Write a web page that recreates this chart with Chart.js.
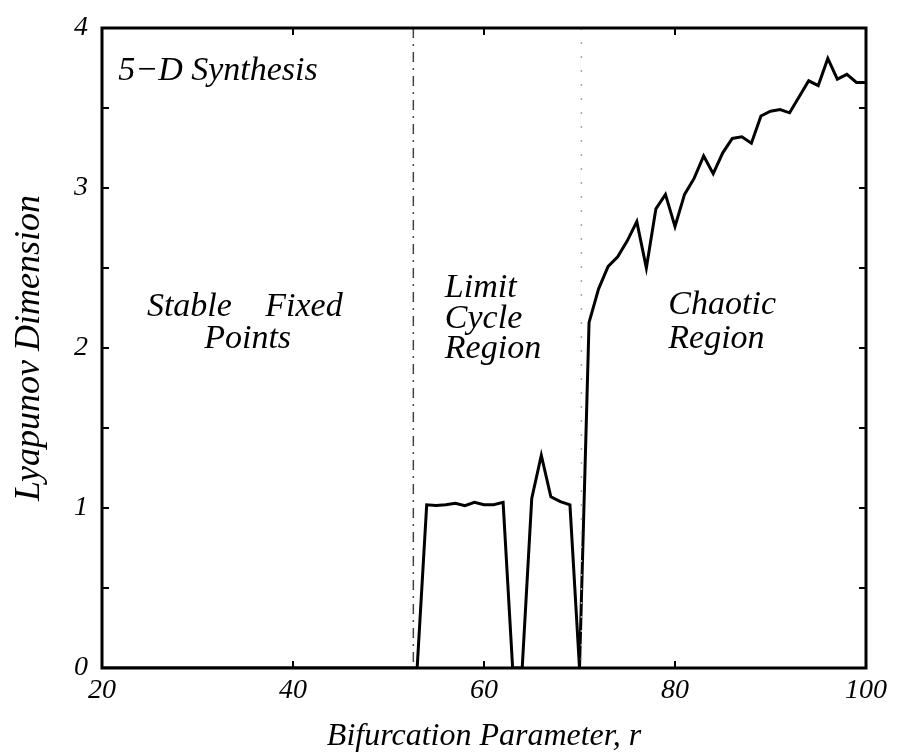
<!DOCTYPE html>
<html lang="en">
<head>
    <meta charset="UTF-8">
    <title>Lyapunov Dimension vs Bifurcation Parameter</title>
    <script src="https://cdn.jsdelivr.net/npm/chart.js"></script>
    <style>
        body {
            margin: 0;
            padding: 0;
            background-color: #ffffff;
        }
        #wrap {
            width: 900px;
            height: 753px;
        }
    </style>
</head>
<body>
    <div id="wrap"><canvas id="chartLyap"></canvas></div>

    <script>
        // bifurcation parameter r and the Lyapunov dimension
        var rValues = [20, 30, 40, 50, 53, 54, 55, 56, 57, 58, 59, 60, 61, 62, 63, 64, 65, 66, 67, 68, 69, 70,
                       71, 72, 73, 74, 75, 76, 77, 78, 79, 80, 81, 82, 83, 84, 85, 86, 87, 88, 89, 90,
                       91, 92, 93, 94, 95, 96, 97, 98, 99, 100];
        var lyapDim = [0, 0, 0, 0, 0, 1.02, 1.015, 1.02, 1.03, 1.015, 1.035, 1.02, 1.02, 1.035, 0, 0, 1.06, 1.33, 1.07, 1.04, 1.02, 0,
                       2.16, 2.37, 2.51, 2.57, 2.67, 2.79, 2.50, 2.87, 2.96, 2.76, 2.96, 3.06, 3.20, 3.09, 3.22, 3.31, 3.32, 3.28, 3.45, 3.48,
                       3.49, 3.47, 3.57, 3.67, 3.64, 3.81, 3.68, 3.71, 3.66, 3.66];

        var xTicks = [20, 40, 60, 80, 100];
        var yTicks = [0, 1, 2, 3, 4];
        var regionBounds = [52.6, 70.2];

        // region labels: [text, r, y]
        var notes = [
            ['5\u2212D Synthesis', 21.7, 3.676],
            ['Stable', 24.7, 2.198],
            ['Fixed', 37.1, 2.198],
            ['Points', 30.7, 1.997],
            ['Limit', 55.9, 2.321],
            ['Cycle', 55.9, 2.125],
            ['Region', 55.9, 1.936],
            ['Chaotic', 79.3, 2.211],
            ['Region', 79.3, 2.003]
        ];

        var serif = "'Liberation Serif', 'DejaVu Serif', serif";

        var frame = {
            id: 'frame',
            afterDraw: function(chart) {
                var ctx = chart.ctx;
                var a = chart.chartArea;
                var xs = chart.scales.x, ys = chart.scales.y;
                ctx.save();

                // region boundaries
                ctx.lineWidth = 1.5;
                ctx.strokeStyle = '#444';
                ctx.setLineDash([10, 6, 2, 6]);
                var bx = xs.getPixelForValue(regionBounds[0]);
                ctx.beginPath(); ctx.moveTo(bx, a.top); ctx.lineTo(bx, a.bottom); ctx.stroke();
                ctx.strokeStyle = '#aaa';
                ctx.setLineDash([2, 12]);
                bx = xs.getPixelForValue(regionBounds[1]);
                ctx.beginPath(); ctx.moveTo(bx, a.top); ctx.lineTo(bx, a.bottom); ctx.stroke();
                ctx.setLineDash([]);

                // inward ticks
                ctx.strokeStyle = '#000';
                ctx.lineWidth = 2;
                ys.ticks.forEach(function(t) {
                    var py = ys.getPixelForValue(t.value);
                    if (py <= a.top + 1 || py >= a.bottom - 1) return;
                    ctx.beginPath();
                    ctx.moveTo(a.left, py); ctx.lineTo(a.left + 7, py);
                    ctx.moveTo(a.right, py); ctx.lineTo(a.right - 7, py);
                    ctx.stroke();
                });
                xs.ticks.forEach(function(t) {
                    var px = xs.getPixelForValue(t.value);
                    if (px <= a.left + 1 || px >= a.right - 1) return;
                    ctx.beginPath();
                    ctx.moveTo(px, a.bottom); ctx.lineTo(px, a.bottom - 7);
                    ctx.moveTo(px, a.top); ctx.lineTo(px, a.top + 7);
                    ctx.stroke();
                });

                // box
                ctx.lineWidth = 3;
                ctx.strokeRect(a.left, a.top, a.right - a.left, a.bottom - a.top);

                // labels
                ctx.fillStyle = '#000';
                ctx.font = 'italic 34px ' + serif;
                ctx.textAlign = 'left';
                ctx.textBaseline = 'alphabetic';
                notes.forEach(function(n) {
                    ctx.fillText(n[0], xs.getPixelForValue(n[1]), ys.getPixelForValue(n[2]));
                });
                ctx.restore();
            }
        };

        new Chart(document.getElementById('chartLyap'), {
            type: 'line',
            data: {
                datasets: [{
                    data: rValues.map(function(r, i) { return { x: r, y: lyapDim[i] }; }),
                    borderColor: '#000',
                    borderWidth: 3,
                    pointRadius: 0,
                    tension: 0,
                    fill: false
                }]
            },
            options: {
                responsive: true,
                maintainAspectRatio: false,
                animation: false,
                layout: { padding: { top: 13, right: 34, left: 0, bottom: 0 } },
                plugins: {
                    legend: { display: false },
                    tooltip: { enabled: false }
                },
                scales: {
                    x: {
                        type: 'linear',
                        min: xTicks[0],
                        max: xTicks[xTicks.length - 1],
                        afterFit: function(s) { s.height = 85; },
                        afterBuildTicks: function(s) { s.ticks = xTicks.map(function(v) { return { value: v }; }); },
                        grid: { display: false, drawTicks: false, tickLength: 0 },
                        border: { display: false },
                        ticks: {
                            color: '#000',
                            padding: 6,
                            maxRotation: 0,
                            font: { family: serif, style: 'italic', size: 28, lineHeight: 1.2 }
                        },
                        title: {
                            display: true,
                            text: 'Bifurcation Parameter, r',
                            color: '#000',
                            padding: { top: 0, bottom: 0 },
                            font: { family: serif, style: 'italic', size: 32, lineHeight: 1 }
                        }
                    },
                    y: {
                        min: yTicks[0],
                        max: yTicks[yTicks.length - 1],
                        afterFit: function(s) { s.width = 102; },
                        grid: { display: false, drawTicks: false, tickLength: 0 },
                        border: { display: false },
                        ticks: {
                            stepSize: 0.5,
                            color: '#000',
                            padding: 14,
                            font: { family: serif, style: 'italic', size: 28, lineHeight: 1 },
                            callback: function(v) { return yTicks.indexOf(v) >= 0 ? String(v) : ''; }
                        },
                        title: {
                            display: true,
                            text: 'Lyapunov Dimension',
                            color: '#000',
                            padding: { top: 12, bottom: 0 },
                            font: { family: serif, style: 'italic', size: 36, lineHeight: 1 }
                        }
                    }
                }
            },
            plugins: [frame]
        });
    </script>
</body>
</html>
